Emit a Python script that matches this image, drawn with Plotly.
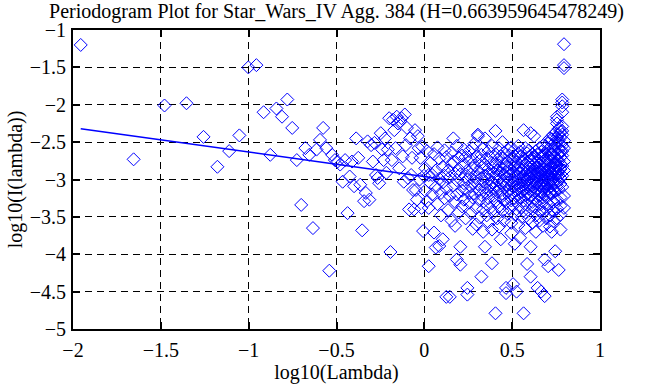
import plotly.graph_objects as go

# ---- data ----
title_text = "Periodogram Plot for Star_Wars_IV Agg. 384 (H=0.663959645478249)"
hurst = 0.663959645478249
fit_intercept = -2.961
fit_x = [-1.956, 0.12]

# low-frequency points (individually readable)
x_sparse = [-1.956, -1.655, -1.479, -1.354, -1.257, -1.178, -1.111, -1.053, -1.002, -0.956,
            -0.915, -0.877, -0.842, -0.810, -0.780, -0.752, -0.726, -0.701, -0.677, -0.655,
            -0.634, -0.614, -0.594, -0.576, -0.558, -0.541, -0.525, -0.509, -0.494, -0.479,
            -0.465, -0.451, -0.437, -0.425, -0.412, -0.400, -0.388, -0.376, -0.365, -0.354,
            -0.343, -0.333, -0.323, -0.313, -0.303, -0.293, -0.284, -0.275, -0.266, -0.257,
            -0.248, -0.240, -0.232, -0.224, -0.216, -0.208, -0.200, -0.193, -0.185, -0.178,
            -0.171, -0.164, -0.157, -0.150, -0.143, -0.136, -0.130, -0.123, -0.117, -0.111,
            -0.105, -0.099, -0.093, -0.087, -0.081, -0.075, -0.070, -0.064, -0.058, -0.053,
            -0.048, -0.042, -0.037, -0.032, -0.027, -0.022, -0.016, -0.012, -0.007, -0.002]
y_sparse = [-1.20, -2.73, -2.01, -1.98, -2.43, -2.83, -2.62, -2.41, -1.50, -1.47,
            -2.10, -2.67, -2.05, -2.16, -1.93, -2.31, -2.74, -3.34, -2.58, -2.67,
            -3.65, -2.60, -2.47, -2.31, -2.58, -4.22, -2.67, -2.74, -2.76, -2.80,
            -3.03, -2.74, -3.45, -2.96, -2.76, -3.09, -2.45, -2.71, -3.07, -3.68,
            -3.29, -3.18, -2.49, -3.27, -2.54, -2.76, -2.51, -2.94, -2.98, -3.05,
            -2.38, -2.60, -2.74, -2.45, -2.91, -2.60, -2.18, -3.97, -2.74, -2.20,
            -2.34, -2.58, -2.16, -2.25, -2.85, -2.22, -2.18, -2.69, -3.03, -2.13,
            -2.54, -2.31, -2.98, -3.40, -2.45, -2.94, -2.71, -3.14, -3.40, -2.34,
            -3.14, -3.27, -2.42, -2.58, -3.00, -2.71, -3.38, -2.56, -3.69, -2.95]

# dense high-frequency region: log10(Lambda) bins of width 0.01 and the values in each
bin_x = [0.005, 0.015, 0.025, 0.035, 0.045, 0.055, 0.065, 0.075, 0.085, 0.095,
         0.105, 0.115, 0.125, 0.135, 0.145, 0.155, 0.165, 0.175, 0.185, 0.195,
         0.205, 0.215, 0.225, 0.235, 0.245, 0.255, 0.265, 0.275, 0.285, 0.295,
         0.305, 0.315, 0.325, 0.335, 0.345, 0.355, 0.365, 0.375, 0.385, 0.395,
         0.405, 0.415, 0.425, 0.435, 0.445, 0.455, 0.465, 0.475, 0.485, 0.495,
         0.505, 0.515, 0.525, 0.535, 0.545, 0.555, 0.565, 0.575, 0.585, 0.595,
         0.605, 0.615, 0.625, 0.635, 0.645, 0.655, 0.665, 0.675, 0.685, 0.695,
         0.705, 0.715, 0.725, 0.735, 0.745, 0.755, 0.765, 0.775, 0.785, 0.795]
bin_y = [
    [-2.85, -3.15], [-2.62, -3.29],
    [-2.94, -3.38, -4.16], [-2.78, -3.05],
    [-3.20, -2.94], [-2.66, -3.71],
    [-3.91, -2.88, -3.10], [-2.57, -3.33],
    [-3.89, -2.99, -2.72], [-3.18, -3.48],
    [-3.80, -2.83, -3.04], [-2.61, -3.25, -2.95],
    [-4.57, -3.12, -2.70], [-3.41, -2.88],
    [-4.57, -2.97, -3.22], [-2.64, -3.55, -2.80],
    [-2.45, -3.08, -2.76], [-3.30, -2.92, -3.62],
    [-2.55, -4.07, -3.01, -3.20], [-2.71, -3.44, -2.86],
    [-3.90, -4.14, -2.93], [-2.68, -3.15, -3.36],
    [-2.60, -3.05, -2.79, -3.27], [-2.96, -3.52, -2.70, -3.12],
    [-4.45, -4.54, -2.88, -3.00], [-2.62, -3.31, -3.18],
    [-2.74, -3.09, -2.93, -3.45], [-2.58, -3.24, -2.85, -3.66],
    [-2.52, -3.02, -3.19, -2.81], [-3.38, -2.97, -3.60, -2.69],
    [-2.40, -2.42, -3.06, -2.90], [-3.28, -2.75, -3.14, -3.51],
    [-4.30, -2.98, -2.67, -3.21, -2.84], [-3.40, -3.03, -2.59, -3.70],
    [-2.45, -3.90, -3.11, -2.80, -2.95], [-3.33, -2.72, -3.18, -3.48],
    [-2.62, -3.00, -3.25, -2.86, -3.57], [-2.70, -3.09, -2.93, -3.38, -3.15],
    [-4.12, -3.67, -2.78, -3.04, -2.55], [-3.22, -2.91, -3.44, -2.83, -3.12],
    [-2.35, -4.79, -2.97, -3.29, -2.66, -3.08], [-2.88, -3.52, -3.16, -2.74, -3.01],
    [-2.58, -3.13, -2.81, -3.36, -2.95, -3.63], [-3.05, -2.69, -3.24, -2.90, -3.80],
    [-2.50, -2.86, -3.19, -3.02, -2.72, -3.42], [-2.93, -3.10, -3.55, -2.79, -3.27, -2.64],
    [-4.45, -4.52, -2.83, -3.07, -2.97, -3.31], [-2.60, -3.16, -2.89, -3.46, -2.76, -3.04],
    [-2.68, -3.00, -3.22, -2.85, -3.39, -2.94, -3.12], [-2.57, -3.58, -2.80, -3.08, -3.28, -3.72],
    [-4.40, -2.73, -3.03, -2.91, -3.18, -2.62, -3.35], [-2.98, -3.09, -2.82, -3.47, -3.25, -2.69, -3.86],
    [-4.50, -2.88, -3.14, -2.77, -3.01, -3.30, -2.95], [-2.66, -3.42, -3.06, -2.84, -3.20, -3.61, -2.55],
    [-3.78, -2.70, -3.05, -2.92, -3.24, -2.81, -3.11, -2.63], [-3.37, -2.98, -3.16, -2.87, -3.50, -3.02, -2.76],
    [-2.34, -4.79, -2.86, -3.09, -2.97, -3.28, -2.72, -3.13], [-2.58, -3.44, -2.93, -3.03, -3.21, -2.80, -3.65],
    [-4.13, -2.65, -3.00, -2.89, -3.19, -2.77, -3.07, -3.34], [-2.94, -2.70, -3.12, -3.52, -2.84, -3.25, -2.99, -2.61],
    [-3.90, -4.30, -2.38, -2.90, -3.08, -2.75, -3.22, -2.98, -3.15], [-2.67, -3.40, -2.83, -3.04, -2.92, -3.30, -2.71, -3.58],
    [-2.42, -2.80, -3.02, -2.93, -3.18, -2.69, -3.10, -2.86, -3.36], [-2.97, -2.62, -3.26, -3.06, -2.77, -3.48, -2.89, -3.14, -3.70],
    [-4.45, -2.73, -2.96, -3.11, -2.84, -3.29, -2.66, -3.03, -2.91], [-3.21, -2.58, -3.42, -2.79, -3.07, -2.99, -3.55, -2.88, -3.16],
    [-4.50, -2.71, -2.90, -3.05, -2.82, -3.17, -2.63, -3.33, -2.95, -3.09], [-2.76, -3.24, -2.55, -3.01, -2.87, -3.45, -2.68, -3.13, -2.93, -3.62],
    [-4.07, -4.56, -2.78, -2.97, -2.65, -3.10, -2.86, -3.20, -2.59, -3.02], [-2.92, -3.31, -2.72, -3.06, -2.83, -3.40, -2.50, -3.15, -2.95, -3.52],
    [-4.16, -2.60, -2.88, -3.00, -2.74, -3.12, -2.52, -2.94, -3.22, -2.81, -3.06], [-2.67, -3.35, -2.91, -2.45, -3.17, -2.85, -3.48, -2.71, -3.03, -2.97, -3.63],
    [-3.70, -2.55, -2.82, -2.98, -2.66, -3.09, -2.46, -2.91, -3.19, -2.76, -3.01], [-2.60, -3.30, -2.87, -2.40, -3.13, -2.79, -3.42, -2.70, -2.95, -3.05, -3.56],
    [-3.96, -2.50, -2.78, -2.92, -2.62, -3.05, -2.38, -2.85, -3.16, -2.70, -2.97, -2.55], [-2.16, -2.20, -2.25, -3.27, -2.81, -2.44, -3.08, -2.74, -3.39, -2.89, -3.52],
    [-4.21, -2.32, -2.48, -2.75, -2.90, -2.58, -3.02, -2.40, -2.83, -3.13, -2.66, -2.95, -2.52], [-3.67, -3.24, -2.79, -2.36, -3.06, -2.70, -3.35, -2.86, -2.62, -2.98, -3.47, -2.44],
    [-1.93, -1.97, -2.02, -2.10, -2.29, -2.40, -2.55, -2.68, -2.82, -2.35, -2.95, -2.62, -3.10], [-1.19, -1.47, -1.51, -2.48, -2.76, -3.22, -2.58, -2.88, -3.38],
]

# ---- assemble ----
x_all = list(x_sparse)
y_all = list(y_sparse)
for bx, ys in zip(bin_x, bin_y):
    for v in ys:
        x_all.append(bx)
        y_all.append(v)

slope = 1 - 2 * hurst
fit_y = [fit_intercept + slope * v for v in fit_x]

BLUE = "#0000ff"
FONT = "Liberation Serif, Times New Roman, serif"

fig = go.Figure()
fig.add_trace(go.Scatter(
    x=x_all, y=y_all, mode="markers",
    marker=dict(symbol="diamond-open", size=10, color=BLUE, line=dict(width=1, color=BLUE)),
    showlegend=False, hoverinfo="skip"))
fig.add_trace(go.Scatter(
    x=fit_x, y=fit_y, mode="lines",
    line=dict(color=BLUE, width=1.5), showlegend=False, hoverinfo="skip"))

axis_common = dict(
    showgrid=True, gridcolor="black", gridwidth=1, griddash="7px,5px",
    zeroline=False, showline=True, linecolor="black", linewidth=2, mirror="ticks",
    ticks="inside", ticklen=7, tickwidth=2, tickcolor="black", automargin=False,
    tickfont=dict(family=FONT, size=20, color="black"),
)

fig.update_layout(
    width=665, height=385,
    margin=dict(l=73, r=65, t=30, b=56),
    paper_bgcolor="white", plot_bgcolor="white",
    font=dict(family=FONT, size=20, color="black"),
    title=dict(text=title_text, x=0.5, xref="paper", xanchor="center",
               y=1 - 11 / 385, yref="container", yanchor="middle",
               font=dict(family=FONT, size=20, color="black")),
    xaxis=dict(range=[-2, 1], dtick=0.5, tick0=-2, ticklabelstandoff=2,
               title=dict(text="log10(Lambda)", standoff=4,
                          font=dict(family=FONT, size=20, color="black")),
               **axis_common),
    yaxis=dict(range=[-5, -1], dtick=0.5, tick0=-5, ticklabelstandoff=1,
               title=dict(text="log10(I(lambda))", standoff=2,
                          font=dict(family=FONT, size=20, color="black")),
               **axis_common),
)

fig.write_html("out.html", config={"displayModeBar": False},
               post_script="document.body.style.margin='0';")
